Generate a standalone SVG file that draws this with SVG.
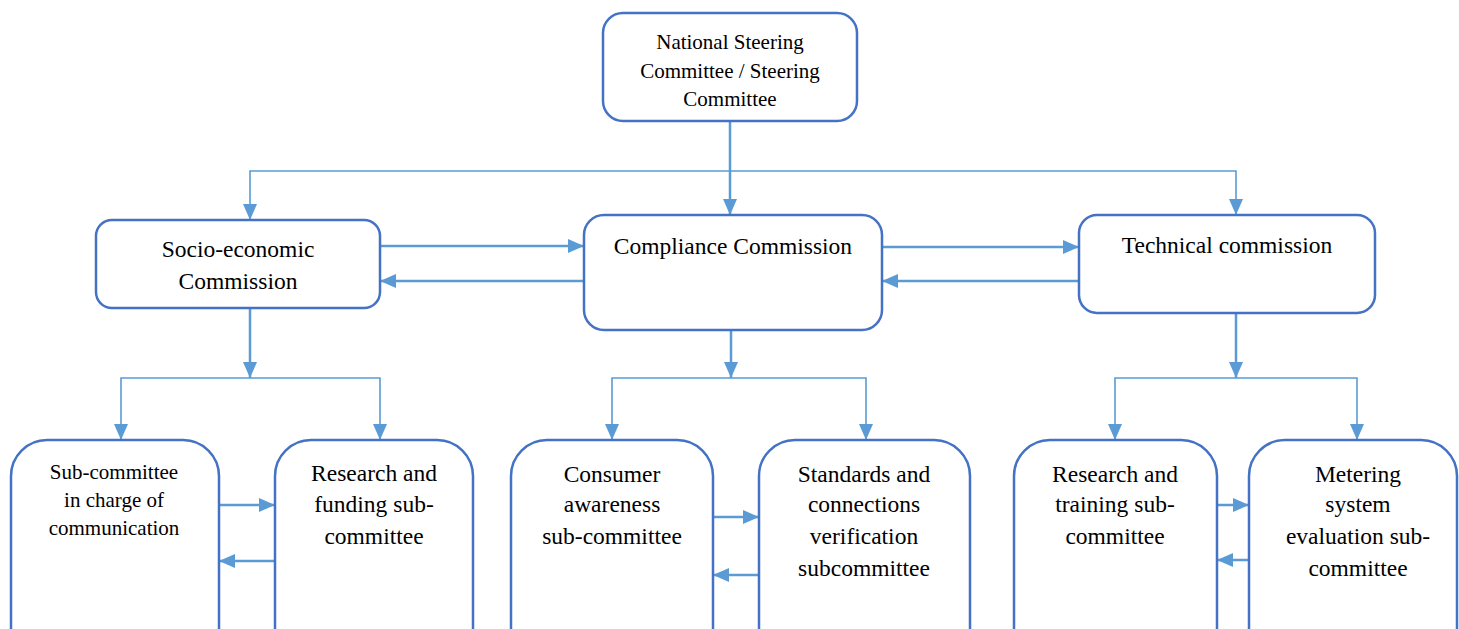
<svg xmlns="http://www.w3.org/2000/svg" width="1459" height="629" viewBox="0 0 1459 629">
<style>
.node{fill:#fff;stroke:#4472C4;stroke-width:2.5}
.c{fill:none;stroke:#5B9BD5;stroke-width:2.5}
.t{stroke-width:1.6}
text{font-family:"Liberation Serif","Times New Roman",serif;fill:#000;text-anchor:middle}
.f21{font-size:21px}
.f24{font-size:23.5px}
</style>
<defs>
<marker id="ah" markerUnits="userSpaceOnUse" markerWidth="16" markerHeight="14" refX="16" refY="7" orient="auto-start-reverse">
<path d="M0,0 L16,7 L0,14 z" fill="#5B9BD5"/>
</marker>
</defs>
<rect width="1459" height="629" fill="#fff"/>
<g id="connectors">
<path class="c" d="M730,121 V215" marker-end="url(#ah)"/>
<path class="c t" d="M730,171 H250 V220" marker-end="url(#ah)"/>
<path class="c t" d="M730,171 H1236 V215" marker-end="url(#ah)"/>
<path class="c" d="M380,246 H584" marker-end="url(#ah)"/>
<path class="c" d="M584,281 H380" marker-end="url(#ah)"/>
<path class="c" d="M882,247 H1079" marker-end="url(#ah)"/>
<path class="c" d="M1079,281 H882" marker-end="url(#ah)"/>
<path class="c" d="M250,308 V378" marker-end="url(#ah)"/>
<path class="c t" d="M121,440 V378 H380 V440" marker-start="url(#ah)" marker-end="url(#ah)"/>
<path class="c" d="M731,330 V378" marker-end="url(#ah)"/>
<path class="c t" d="M612,440 V378 H866 V440" marker-start="url(#ah)" marker-end="url(#ah)"/>
<path class="c" d="M1236,313 V378" marker-end="url(#ah)"/>
<path class="c t" d="M1115,440 V378 H1357 V440" marker-start="url(#ah)" marker-end="url(#ah)"/>
<path class="c" d="M219,505 H275" marker-end="url(#ah)"/>
<path class="c" d="M275,561 H219" marker-end="url(#ah)"/>
<path class="c" d="M713,517 H759" marker-end="url(#ah)"/>
<path class="c" d="M759,575 H713" marker-end="url(#ah)"/>
<path class="c" d="M1217,505 H1249" marker-end="url(#ah)"/>
<path class="c" d="M1249,560 H1217" marker-end="url(#ah)"/>
</g>
<g id="steering">
<rect class="node" x="603" y="13" width="254" height="108" rx="20"/>
<text class="f21" x="730" y="49">National Steering</text>
<text class="f21" x="730" y="78">Committee / Steering</text>
<text class="f21" x="730" y="106">Committee</text>
</g>
<g id="socio">
<rect class="node" x="96" y="220" width="284" height="88" rx="16"/>
<text class="f24" x="238" y="257">Socio-economic</text>
<text class="f24" x="238" y="289">Commission</text>
</g>
<g id="compliance">
<rect class="node" x="584" y="215" width="298" height="115" rx="20"/>
<text class="f24" x="733" y="254">Compliance Commission</text>
</g>
<g id="technical">
<rect class="node" x="1079" y="215" width="296" height="98" rx="18"/>
<text class="f24" x="1227" y="253">Technical commission</text>
</g>
<g id="sub-communication">
<rect class="node" x="11" y="440" width="208" height="260" rx="36"/>
<text class="f21" x="114" y="479">Sub-committee</text>
<text class="f21" x="114" y="507">in charge of</text>
<text class="f21" x="114" y="535">communication</text>
</g>
<g id="sub-research-funding">
<rect class="node" x="275" y="440" width="198" height="260" rx="36"/>
<text class="f24" x="374" y="481">Research and</text>
<text class="f24" x="374" y="512">funding sub-</text>
<text class="f24" x="374" y="544">committee</text>
</g>
<g id="sub-consumer">
<rect class="node" x="511" y="440" width="202" height="260" rx="36"/>
<text class="f24" x="612" y="482">Consumer</text>
<text class="f24" x="612" y="512">awareness</text>
<text class="f24" x="612" y="544">sub-committee</text>
</g>
<g id="sub-standards">
<rect class="node" x="759" y="440" width="211" height="260" rx="36"/>
<text class="f24" x="864" y="482">Standards and</text>
<text class="f24" x="864" y="512">connections</text>
<text class="f24" x="864" y="544">verification</text>
<text class="f24" x="864" y="576">subcommittee</text>
</g>
<g id="sub-research-training">
<rect class="node" x="1014" y="440" width="203" height="260" rx="36"/>
<text class="f24" x="1115" y="482">Research and</text>
<text class="f24" x="1115" y="512">training sub-</text>
<text class="f24" x="1115" y="544">committee</text>
</g>
<g id="sub-metering">
<rect class="node" x="1249" y="440" width="208" height="260" rx="36"/>
<text class="f24" x="1358" y="482">Metering</text>
<text class="f24" x="1358" y="512">system</text>
<text class="f24" x="1358" y="544">evaluation sub-</text>
<text class="f24" x="1358" y="576">committee</text>
</g>
</svg>
